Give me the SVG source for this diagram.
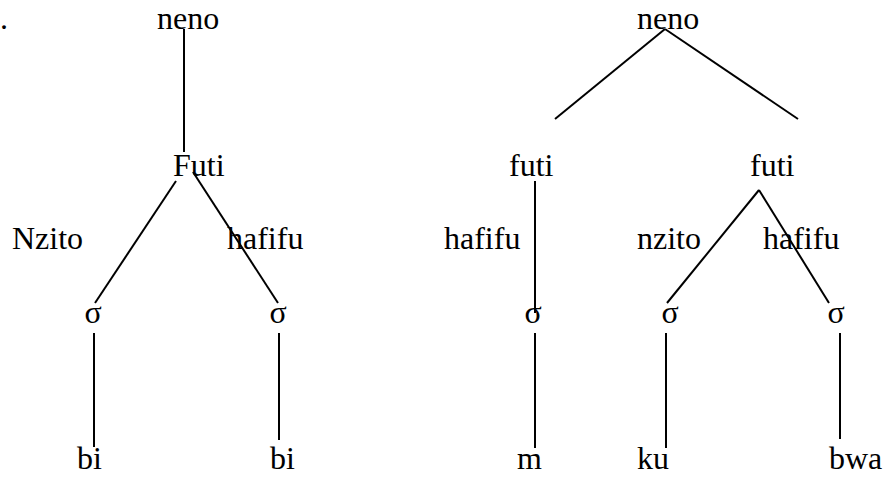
<svg xmlns="http://www.w3.org/2000/svg" width="885" height="477" viewBox="0 0 885 477">
<style>
text{font-family:"Liberation Serif","Times New Roman",serif;font-size:32px;fill:#000}
.m{text-anchor:middle}
line{stroke:#000;stroke-width:2;stroke-linecap:butt}
</style>
<rect width="885" height="477" fill="#fff"/>
<g id="mark" font-family="Liberation Serif, serif"><text x="0" y="29">.</text></g>
<g id="connectors">
<line x1="184" y1="29" x2="184" y2="152"/>
<line x1="176" y1="181" x2="95" y2="303"/>
<line x1="193" y1="172" x2="278" y2="303"/>
<line x1="94" y1="333" x2="94" y2="447"/>
<line x1="279" y1="333" x2="279" y2="440"/>
<line x1="665" y1="29" x2="555" y2="119"/>
<line x1="665" y1="29" x2="798" y2="119"/>
<line x1="535" y1="181" x2="535" y2="313"/>
<line x1="535" y1="333" x2="535" y2="448"/>
<line x1="759" y1="190" x2="667" y2="303"/>
<line x1="759" y1="190" x2="829" y2="303"/>
<line x1="666" y1="333" x2="666" y2="448"/>
<line x1="840" y1="333" x2="840" y2="439"/>
</g>
<g id="neno1"><text x="157" y="29">neno</text></g>
<g id="futi1"><text x="173" y="176">Futi</text></g>
<g id="nzito1"><text x="12" y="249">Nzito</text></g>
<g id="hafifu1"><text x="227" y="249">hafifu</text></g>
<g id="sigma1"><text class="m" x="93" y="323">σ</text></g>
<g id="sigma2"><text class="m" x="278" y="323">σ</text></g>
<g id="bi1"><text x="77" y="469">bi</text></g>
<g id="bi2"><text x="270" y="469">bi</text></g>
<g id="neno2"><text x="637" y="29">neno</text></g>
<g id="futi2"><text x="509" y="176">futi</text></g>
<g id="futi3"><text x="750" y="176">futi</text></g>
<g id="hafifu2"><text x="444" y="249">hafifu</text></g>
<g id="nzito2"><text x="637" y="249">nzito</text></g>
<g id="hafifu3"><text x="763" y="249">hafifu</text></g>
<g id="sigma3"><text class="m" x="533" y="323">σ</text></g>
<g id="sigma4"><text class="m" x="670" y="323">σ</text></g>
<g id="sigma5"><text class="m" x="836" y="323">σ</text></g>
<g id="m"><text x="517" y="469">m</text></g>
<g id="ku"><text x="637" y="469">ku</text></g>
<g id="bwa"><text x="829" y="469">bwa</text></g>
</svg>
